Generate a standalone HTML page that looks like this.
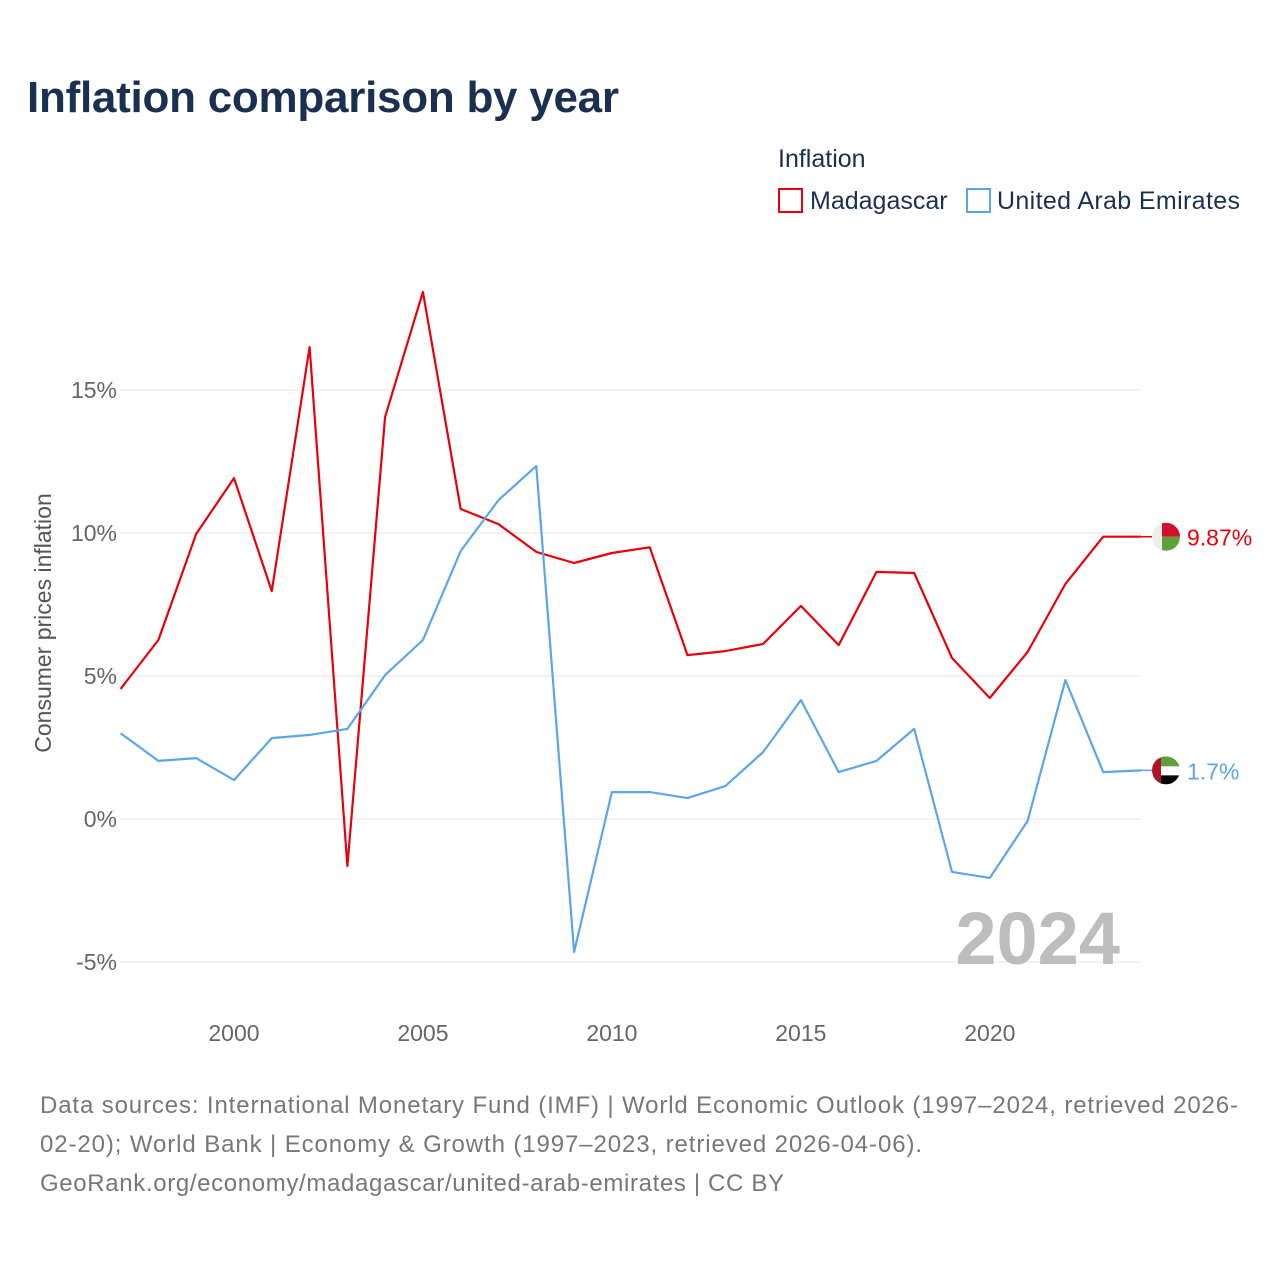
<!DOCTYPE html>
<html><head><meta charset="utf-8"><style>
body{margin:0;background:#fff;font-family:"Liberation Sans",sans-serif;}
svg text{font-family:"Liberation Sans",sans-serif;}
</style></head><body>
<svg id="chart" width="1280" height="1280" viewBox="0 0 1280 1280">
<text x="27" y="112" font-size="44" font-weight="bold" fill="#1b3050" textLength="592">Inflation comparison by year</text>
<text x="778" y="167" font-size="25" fill="#1b3050">Inflation</text>
<g><rect x="779" y="189" width="23" height="23" fill="none" stroke="#e8000b" stroke-width="2"/><text x="810" y="209" font-size="25" fill="#1b3050">Madagascar</text></g>
<g><rect x="967" y="189" width="23" height="23" fill="none" stroke="#5aa6e8" stroke-width="2"/><text x="997" y="209" font-size="25" fill="#1b3050" textLength="243">United Arab Emirates</text></g>
<g id="grid"></g>
<g id="yticks"></g>
<g id="xticks"></g>
<text transform="translate(51,623) rotate(-90)" text-anchor="middle" font-size="23" fill="#555">Consumer prices inflation</text>
<text x="1120" y="964" text-anchor="end" font-size="74" font-weight="bold" fill="#bdbdbd">2024</text>
<g id="series"></g>
<g font-size="24" fill="#777">
<text x="40" y="1113" textLength="1198">Data sources: International Monetary Fund (IMF) | World Economic Outlook (1997–2024, retrieved 2026-</text>
<text x="40" y="1152" textLength="882">02-20); World Bank | Economy &amp; Growth (1997–2023, retrieved 2026-04-06).</text>
<text x="40" y="1191" textLength="744">GeoRank.org/economy/madagascar/united-arab-emirates | CC BY</text>
</g>
</svg>
<script>
const years=[1997,1998,1999,2000,2001,2002,2003,2004,2005,2006,2007,2008,2009,2010,2011,2012,2013,2014,2015,2016,2017,2018,2019,2020,2021,2022,2023,2024];
const madagascar=[4.55,6.26,9.97,11.92,7.97,16.5,-1.64,14.06,18.43,10.84,10.31,9.34,8.95,9.3,9.5,5.73,5.87,6.12,7.45,6.08,8.64,8.6,5.63,4.23,5.84,8.22,9.87,9.87];
const uae=[3.0,2.03,2.13,1.36,2.83,2.94,3.15,5.03,6.26,9.37,11.15,12.34,-4.65,0.94,0.94,0.73,1.15,2.34,4.16,1.64,2.03,3.15,-1.85,-2.06,-0.07,4.86,1.64,1.7];
const yTicks=[-5,0,5,10,15];
const yLabels=["-5%","0%","5%","10%","15%"];
const xTicks=[2000,2005,2010,2015,2020];
const NS="http://www.w3.org/2000/svg";
const X=y=>120.6+(y-1997)*(1141-120.6)/27;
const Y=v=>819-v*28.6;
function mk(t,a,p){const e=document.createElementNS(NS,t);for(const k in a)e.setAttribute(k,a[k]);p.appendChild(e);return e;}
const grid=document.getElementById('grid'),yt=document.getElementById('yticks'),xt=document.getElementById('xticks'),ser=document.getElementById('series');
yTicks.forEach((v,i)=>{
 const l=mk('line',{x1:120,x2:1141,y1:Y(v),y2:Y(v),stroke:'#e6e6e6','stroke-width':1},grid);
 
 
 const t=mk('text',{x:117,y:Y(v)+8,'text-anchor':'end','font-size':23,fill:'#666'},yt);
 t.textContent=yLabels[i];
 
 
});
xTicks.forEach(v=>{
 const t=mk('text',{x:X(v),y:1041,'text-anchor':'middle','font-size':23,fill:'#666'},xt);
 t.textContent=v;
 
 
});
function line(vals,color,name){
 const d=vals.map((v,i)=>(i?'L':'M')+X(years[i]).toFixed(1)+','+Y(v).toFixed(1)).join('');
 const p=mk('path',{d:d,fill:'none',stroke:color,'stroke-width':2.2,'stroke-linejoin':'round'},ser);
 
 
 const last=vals[vals.length-1],ly=Y(last),lx=X(years[years.length-1]);
 mk('line',{x1:lx,x2:1152,y1:ly,y2:ly,stroke:color,'stroke-width':1.5},ser);
 return ly;
}
const my=line(madagascar,'#e8000b','line-madagascar');
const uy=line(uae,'#5aa6e8','line-uae');
const fm=mk('g',{},ser);


const cp1=mk('clipPath',{id:'c1'},fm);mk('circle',{cx:1166,cy:my,r:14},cp1);
const g1=mk('g',{'clip-path':'url(#c1)'},fm);
mk('rect',{x:1152,y:my-14,width:28,height:28,fill:'#eee'},g1);
mk('rect',{x:1162,y:my-14,width:18,height:14,fill:'#d2102d'},g1);
mk('rect',{x:1162,y:my,width:18,height:14,fill:'#5fa03a'},g1);
const fu=mk('g',{},ser);


const cp=mk('clipPath',{id:'c2'},fu);mk('circle',{cx:1166,cy:uy,r:14},cp);
const g2=mk('g',{'clip-path':'url(#c2)'},fu);
mk('rect',{x:1152,y:uy-14,width:28,height:10,fill:'#5fa03a'},g2);
mk('rect',{x:1152,y:uy-4,width:28,height:9,fill:'#fff'},g2);
mk('rect',{x:1152,y:uy+5,width:28,height:9,fill:'#000'},g2);
mk('rect',{x:1152,y:uy-14,width:9,height:28,fill:'#b0142c'},g2);
const t1=mk('text',{x:1187,y:my+9,'font-size':23,fill:'#e8000b'},ser);t1.textContent=madagascar[madagascar.length-1]+'%';


const t2=mk('text',{x:1187,y:uy+9,'font-size':23,fill:'#5aa6e8'},ser);t2.textContent=uae[uae.length-1]+'%';


</script>
</body></html>
